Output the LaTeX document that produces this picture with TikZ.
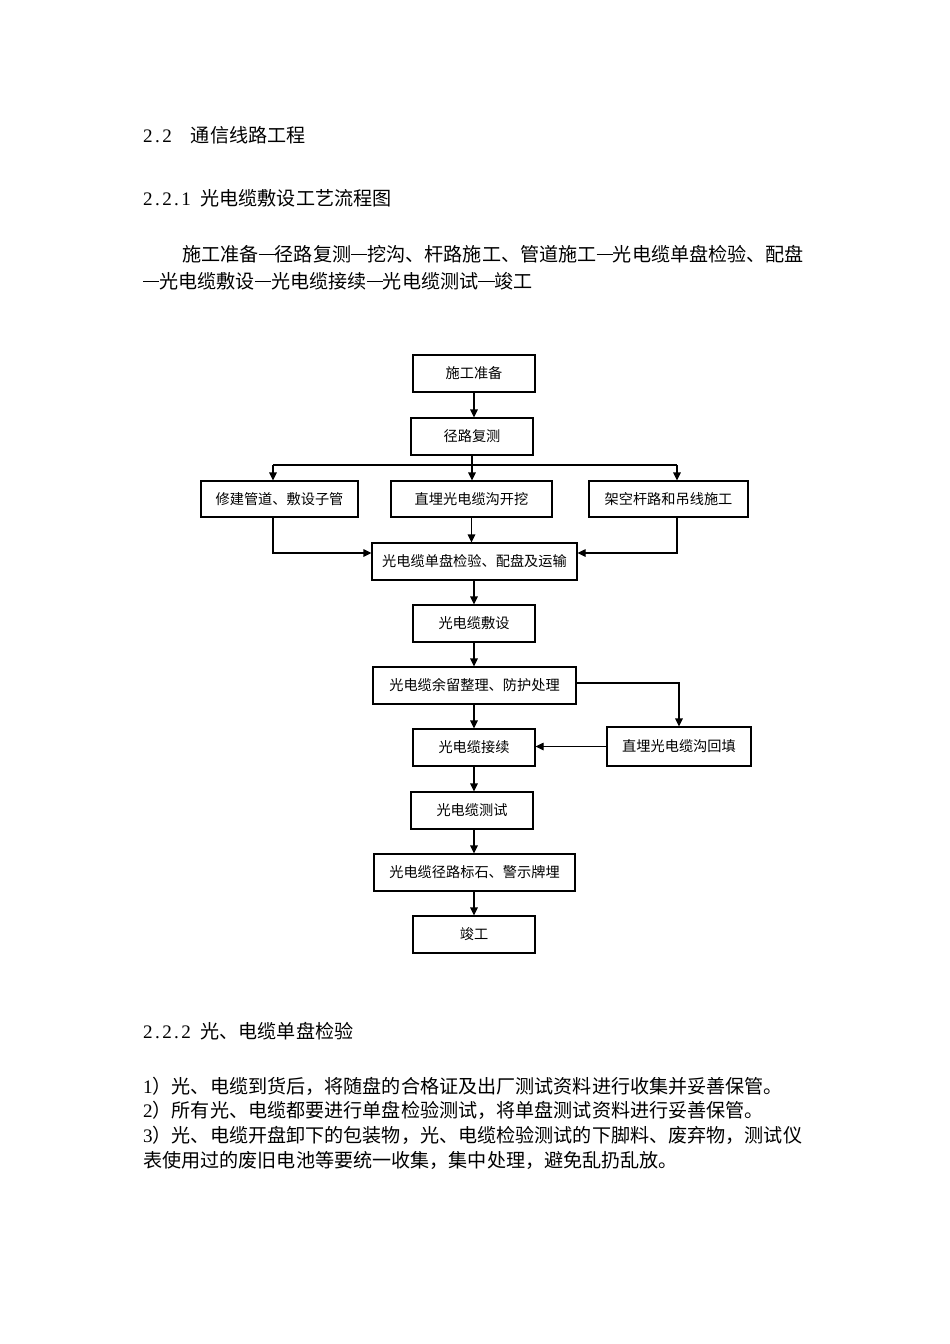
\documentclass[tikz,border=0pt]{standalone}
\usepackage{fontspec}
\setmainfont{Noto Sans CJK SC}
\newfontfamily\latinf{Liberation Serif}
\newcommand{\hc}[1]{\makebox[0.5em][c]{\latinf #1}}
\newcommand{\dd}{\rule[0.32em]{0.85em}{0.06em}}
\usetikzlibrary{arrows.meta}
\begin{document}
\begin{tikzpicture}[x=1pt,y=-1pt,
  box/.style={draw,line width=1.1pt,inner sep=0pt,font=\fontsize{14.2}{15}\selectfont},
  conn/.style={line width=1.1pt,-{Triangle[length=8pt,width=7.5pt]}},
  plain/.style={line width=1.1pt},
  txt/.style={anchor=west,inner sep=0pt,font=\fontsize{19.1}{20}\selectfont}]
\useasboundingbox[fill=white] (0,0) rectangle (950,1344);
% texts
\node[txt] (h1) at (143,135) {\hc{2}\hc{.}\hc{2}\hspace{1em}通信线路工程};
\node[txt] (h2) at (143,198) {\hc{2}\hc{.}\hc{2}\hc{.}\hc{1}\hspace{0.5em}光电缆敷设工艺流程图};
\node[txt] (p1) at (182,254) {施工准备\dd 径路复测\dd 挖沟、杆路施工、管道施工\dd 光电缆单盘检验、配盘};
\node[txt] (p2) at (143,281) {\dd 光电缆敷设\dd 光电缆接续\dd 光电缆测试\dd 竣工};
\node[txt] (h3) at (143,1031) {\hc{2}\hc{.}\hc{2}\hc{.}\hc{2}\hspace{0.5em}光、电缆单盘检验};
\node[txt] (l1) at (143,1086) {\hc{1}）光、电缆到货后，将随盘的合格证及出厂测试资料进行收集并妥善保管。};
\node[txt] (l2) at (143,1110) {\hc{2}）所有光、电缆都要进行单盘检验测试，将单盘测试资料进行妥善保管。};
\node[txt] (l3) at (143,1135) {\hc{3}）光、电缆开盘卸下的包装物，光、电缆检验测试的下脚料、废弃物，测试仪};
\node[txt] (l4) at (143,1160) {表使用过的废旧电池等要统一收集，集中处理，避免乱扔乱放。};
% boxes
\node[box,minimum width=122pt,minimum height=37pt] (b1) at (474,373.5) {施工准备};
\node[box,minimum width=122pt,minimum height=37pt] (b2) at (472,436.5) {径路复测};
\node[box,minimum width=157pt,minimum height=36pt] (b3) at (279.5,499) {修建管道、敷设子管};
\node[box,minimum width=161pt,minimum height=36pt] (b4) at (471.5,499) {直埋光电缆沟开挖};
\node[box,minimum width=159pt,minimum height=36pt] (b5) at (668.5,499) {架空杆路和吊线施工};
\node[box,minimum width=205pt,minimum height=37pt] (b6) at (474.5,561.5) {光电缆单盘检验、配盘及运输};
\node[box,minimum width=122pt,minimum height=37pt] (b7) at (474,623.5) {光电缆敷设};
\node[box,minimum width=203pt,minimum height=37pt] (b8) at (474.5,685.5) {光电缆余留整理、防护处理};
\node[box,minimum width=122pt,minimum height=37pt] (b9) at (474,747.5) {光电缆接续};
\node[box,minimum width=144pt,minimum height=39pt] (b10) at (679,746.5) {直埋光电缆沟回填};
\node[box,minimum width=122pt,minimum height=37pt] (b11) at (472,810.5) {光电缆测试};
\node[box,minimum width=201pt,minimum height=37pt] (b12) at (474.5,872.5) {光电缆径路标石、警示牌埋};
\node[box,minimum width=122pt,minimum height=37pt] (b13) at (474,934.5) {竣工};
% coordinates
\coordinate (j1) at (472,465);
\coordinate (jl) at (273,465);
\coordinate (jr) at (677,465);
% connectors
\draw[conn] (b1.south) -- (b1.south |- b2.north);
\draw[plain] (b2.south) -- (j1);
\draw[plain] (jl) -- (jr);
\draw[conn] (jl) -- (jl |- b3.north);
\draw[conn] (j1) -- (j1 |- b4.north);
\draw[conn] (jr) -- (jr |- b5.north);
\draw[conn] (jl |- b3.south) |- ([yshift=8.5pt]b6.west);
\draw[conn] (jr |- b5.south) |- ([yshift=8.5pt]b6.east);
\draw[conn] (b4.south) -- (b4.south |- b6.north);
\draw[conn] (b6.south -| b7) -- (b7.north);
\draw[conn] (b7.south) -- (b7.south |- b8.north);
\draw[conn] (b8.south -| b9) -- (b9.north);
\draw[conn] ([yshift=2.5pt]b8.east) -| (b10.north);
\draw[conn] (b10.west) -- (b10.west -| b9.east);
\draw[conn] (b9.south) -- (b9.south |- b11.north);
\draw[conn] (b11.south -| b9) -- (b12.north -| b9);
\draw[conn] (b12.south -| b13) -- (b13.north);
\end{tikzpicture}
\end{document}
